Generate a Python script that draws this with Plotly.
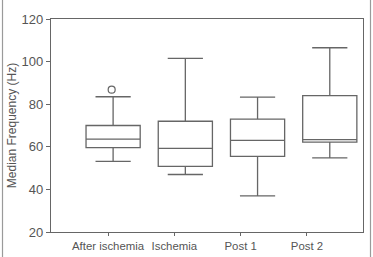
import plotly.graph_objects as go

categories = ["After ischemia", "Ischemia", "Post 1", "Post 2"]
q1 = [59.6, 50.8, 55.5, 62.2]
median = [63.6, 59.3, 63.0, 63.4]
q3 = [70.0, 72.0, 73.0, 84.0]
lower_whisker = [53.2, 47.0, 37.0, 54.8]
upper_whisker = [83.5, 101.5, 83.3, 106.5]
outlier_x = ["After ischemia"]
outlier_y = [86.8]
y_ticks = [20, 40, 60, 80, 100, 120]

line_col = "#666666"
font_fam = "Liberation Sans, Arial, sans-serif"

box_pos = list(range(len(categories)))
tick_pos = [i * 0.918 - 0.07 for i in box_pos]

fig = go.Figure()
fig.add_trace(go.Box(
    x=box_pos,
    q1=q1, median=median, q3=q3,
    lowerfence=lower_whisker, upperfence=upper_whisker,
    width=0.75, whiskerwidth=0.65,
    fillcolor="white",
    line=dict(color=line_col, width=1.3),
    boxpoints=False,
    showlegend=False,
))
fig.add_trace(go.Scatter(
    x=[box_pos[categories.index(c)] - 0.02 for c in outlier_x],
    y=outlier_y,
    mode="markers",
    marker=dict(symbol="circle-open", size=7, color=line_col, line=dict(width=1.2)),
    showlegend=False,
))

fig.update_layout(
    width=373, height=257,
    margin=dict(l=51, r=10, t=19, b=25),
    paper_bgcolor="white", plot_bgcolor="white",
    font=dict(family=font_fam, size=12, color="#555555"),
    xaxis=dict(
        range=[-0.86, 3.46],
        tickvals=tick_pos, ticktext=categories,
        tickangle=0, automargin=False,
        ticks="outside", ticklen=3, tickcolor=line_col,
        showline=True, linecolor=line_col, linewidth=1.2, mirror=True,
        showgrid=False, zeroline=False,
        tickfont=dict(size=11.4),
    ),
    yaxis=dict(
        range=[20, 120], automargin=False,
        tickvals=y_ticks,
        ticks="outside", ticklen=4, tickcolor=line_col,
        showline=True, linecolor=line_col, linewidth=1.2, mirror=True,
        showgrid=False, zeroline=False,
        title=dict(text="Median Frequency (Hz)", font=dict(size=12), standoff=2),
        tickfont=dict(size=13),
    ),
    shapes=[
        dict(type="line", xref="paper", yref="paper",
             x0=(2.5 - 51) / 312, x1=(2.5 - 51) / 312, y0=-25 / 213, y1=(213 + 19) / 213,
             line=dict(color="#9a9a9a", width=1.2)),
        dict(type="line", xref="paper", yref="paper",
             x0=(370.5 - 51) / 312, x1=(370.5 - 51) / 312, y0=-25 / 213, y1=(213 + 19) / 213,
             line=dict(color="#9a9a9a", width=1.2)),
    ],
)

fig.write_html("out.html")
